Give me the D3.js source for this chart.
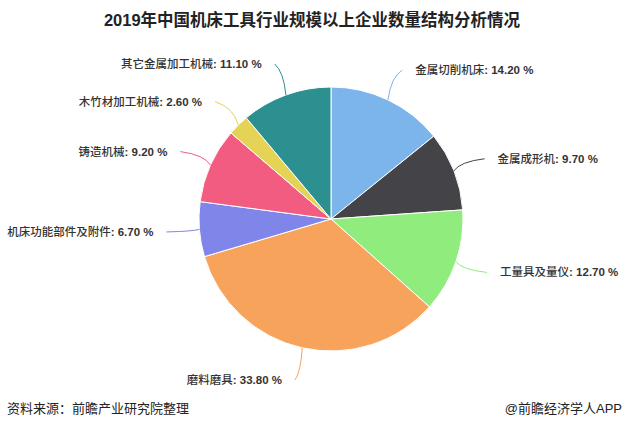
<!DOCTYPE html>
<html>
<head>
<meta charset="utf-8">
<script src="https://cdn.jsdelivr.net/npm/d3@7"></script>
<style>
  body { margin: 0; background: #fff; }
  svg { display: block; font-family: "Liberation Sans", "Noto Sans CJK SC", sans-serif; }
</style>
</head>
<body>
<svg width="624" height="428"></svg>
<script>
// categories, shares (%) and slice colours, clockwise from 12 o'clock
var categories = ["金属切削机床", "金属成形机", "工量具及量仪", "磨料磨具",
                  "机床功能部件及附件", "铸造机械", "木竹材加工机械", "其它金属加工机械"];
var shares = [14.2, 9.7, 12.7, 33.8, 6.7, 9.2, 2.6, 11.1];
var colors = ["#7cb5ec", "#434348", "#90ed7d", "#f7a35c",
              "#8085e9", "#f15c80", "#e4d354", "#2b908f"];

var title = "2019年中国机床工具行业规模以上企业数量结构分析情况",
    source = "资料来源：前瞻产业研究院整理",
    credit = "@前瞻经济学人APP";

var svg = d3.select("svg"),
    cx = 331, cy = 219,
    radius = 132,
    labelRadius = radius + 33;

var data = categories.map(function(c, i) { return {name: c, value: shares[i], color: colors[i]}; });

var pie = d3.pie().sort(null).value(function(d) { return d.value; });
var arc = d3.arc().innerRadius(0).outerRadius(radius);

var chart = svg.append("g").attr("transform", "translate(" + cx + "," + cy + ")");
var slices = pie(data);

chart.selectAll(".slice")
  .data(slices)
  .enter().append("path")
    .attr("class", "slice")
    .attr("d", arc)
    .attr("fill", function(d) { return d.data.color; })
    .attr("stroke", "#fff")
    .attr("stroke-width", 1);

function polar(a, r) { return [r * Math.sin(a), -r * Math.cos(a)]; }

slices.forEach(function(d) {
  var mid = (d.startAngle + d.endAngle) / 2,
      p0 = polar(mid, radius),
      p1 = polar(mid, labelRadius),
      right = Math.sin(mid) >= 0;

  var ctrl = [p0[0] + (p1[0] - p0[0]) * 0.2, p0[1] + (p1[1] - p0[1]) * 0.75];
  chart.append("path")
    .attr("d", "M" + p0 + "Q" + ctrl + " " + p1)
    .attr("fill", "none")
    .attr("stroke", d.data.color)
    .attr("stroke-width", 1);

  var t = chart.append("text")
    .attr("x", p1[0] + (right ? 13 : -13))
    .attr("y", p1[1])
    .attr("dy", "0.35em")
    .attr("text-anchor", right ? "start" : "end")
    .style("font-size", "11.5px")
    .attr("fill", "#333");
  t.append("tspan").style("font-weight", 500).text(d.data.name);
  t.append("tspan").style("font-weight", "bold").text(": " + d.data.value.toFixed(2) + " %");
});

svg.append("text")
  .attr("x", 312).attr("y", 20).attr("dy", "0.35em")
  .attr("text-anchor", "middle")
  .style("font-size", "16.5px").style("font-weight", "bold")
  .attr("fill", "#222")
  .text(title);

svg.append("text")
  .attr("x", 7).attr("y", 408).attr("dy", "0.35em")
  .style("font-size", "13px").attr("fill", "#222")
  .text(source);

svg.append("text")
  .attr("x", 622).attr("y", 408).attr("dy", "0.35em")
  .attr("text-anchor", "end")
  .style("font-size", "13px").attr("fill", "#222")
  .text(credit);
</script>
</body>
</html>
